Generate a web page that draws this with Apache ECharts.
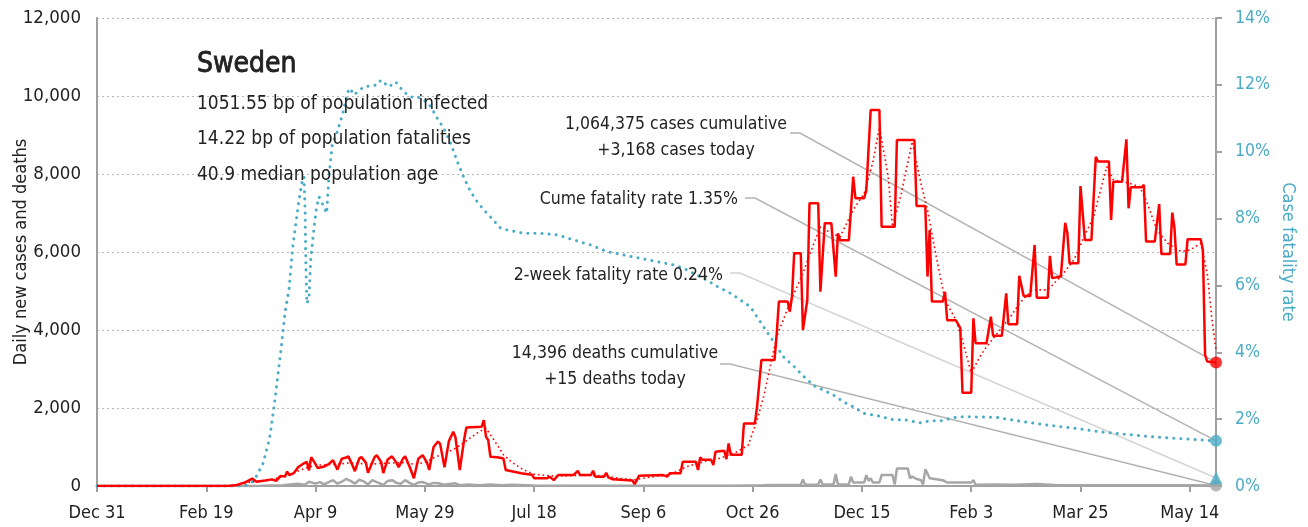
<!DOCTYPE html>
<html>
<head>
<meta charset="utf-8">
<title>Sweden</title>
<script src="https://cdn.jsdelivr.net/npm/echarts@6.0.0/dist/echarts.min.js"></script>
<style>
  html, body { margin: 0; padding: 0; background: #fff; }
  #chart { width: 1308px; height: 527px; }
</style>
</head>
<body>
<div id="chart"></div>
<script>
// x values are day numbers counted from Dec 31, 2019
const tickLabels = ['Dec 31', 'Feb 19', 'Apr 9', 'May 29', 'Jul 18', 'Sep 6', 'Oct 26', 'Dec 15', 'Feb 3', 'Mar 25', 'May 14'];
const lastDay = 512;

// [day, new cases]
const dailyCases = [[0,0],[60,0],[64,25],[68,100],[71,190],[73,110],[77,140],[80,170],[82,130],[84,260],[86,240],[87,370],[88,280],[90,330],[92,480],[94,560],[96,620],[97,400],[98,740],[100,560],[101,460],[104,500],[106,560],[108,660],[110,420],[112,700],[114,730],[115,760],[117,520],[118,380],[120,710],[121,740],[123,600],[124,340],[127,740],[128,790],[130,620],[131,330],[133,680],[135,760],[137,600],[138,480],[140,700],[141,760],[143,500],[145,200],[147,700],[149,790],[151,600],[152,410],[154,1000],[156,1140],[157,1080],[159,480],[161,1150],[163,1390],[164,1250],[166,410],[168,1200],[169,1500],[176,1520],[177,1690],[178,1260],[179,1180],[180,750],[183,735],[185,720],[186,700],[187,410],[194,325],[199,290],[200,200],[206,200],[207,240],[209,150],[211,280],[218,280],[220,390],[221,280],[226,280],[227,390],[228,240],[232,240],[233,340],[234,220],[236,170],[245,140],[246,50],[248,260],[259,280],[261,240],[262,325],[267,325],[268,620],[274,620],[275,410],[276,735],[277,670],[281,670],[282,540],[283,880],[287,905],[288,690],[289,1090],[290,800],[295,800],[296,1600],[301,1600],[302,2030],[304,3230],[310,3230],[311,3900],[312,4730],[316,4730],[317,4470],[318,4860],[319,5970],[322,5970],[323,4000],[325,4770],[326,7250],[330,7250],[331,4980],[333,6740],[336,6740],[338,5370],[339,6480],[340,6300],[344,6300],[346,7930],[347,7380],[351,7380],[352,7590],[354,9640],[358,9640],[359,6650],[365,6650],[366,8870],[374,8870],[375,7180],[379,7180],[380,5370],[381,6560],[382,4730],[387,4730],[388,4980],[389,4250],[393,4250],[395,4050],[396,2390],[400,2390],[401,4300],[402,3660],[407,3660],[409,4340],[410,3850],[414,3850],[416,4940],[417,4150],[421,4150],[422,5390],[424,4870],[427,4870],[429,6180],[430,4830],[435,4830],[436,5900],[437,5330],[441,5370],[443,6750],[444,6480],[445,5710],[449,5710],[450,7690],[452,6310],[455,6310],[457,8440],[458,8320],[463,8320],[464,6820],[465,7800],[469,7800],[471,8890],[472,7120],[473,7660],[478,7660],[479,7720],[480,6270],[484,6270],[486,7230],[487,5950],[491,5950],[492,7010],[493,6610],[494,5680],[498,5680],[499,6330],[505,6330],[506,6050],[507,3360],[508,3190],[512,3168]];

// [day, 7-day average cases]
const casesAvg = [[0,0],[60,0],[65,30],[70,100],[75,130],[80,160],[85,250],[90,340],[95,450],[100,530],[105,550],[110,560],[115,590],[120,580],[125,560],[130,580],[135,590],[140,600],[145,560],[150,600],[155,750],[160,850],[165,1000],[170,1200],[175,1400],[178,1480],[182,1150],[186,800],[190,600],[195,420],[200,300],[210,250],[220,270],[230,270],[240,190],[246,160],[252,220],[262,290],[270,500],[278,630],[285,710],[293,880],[298,1050],[302,1690],[305,2290],[311,3830],[317,4690],[323,5460],[328,6220],[331,6650],[336,6480],[340,6390],[346,7080],[351,7500],[355,8300],[358,9210],[362,7930],[364,6650],[368,7500],[373,8830],[377,7760],[380,7080],[384,5880],[388,4770],[393,4260],[396,3740],[400,2890],[404,3320],[407,3570],[412,3920],[418,4340],[422,4680],[428,5030],[435,5030],[441,5370],[447,5800],[451,6310],[456,6910],[462,8190],[465,7850],[470,7800],[477,7680],[480,7330],[485,6560],[490,6220],[496,6010],[500,6050],[505,6220],[508,5450],[510,4340],[512,3490]];

// [day, new deaths]
const dailyDeaths = [[0,0],[70,0],[75,5],[85,20],[88,40],[92,60],[95,30],[97,110],[100,60],[102,100],[104,40],[106,100],[108,150],[110,60],[112,110],[114,180],[116,130],[118,60],[120,160],[122,120],[124,40],[126,150],[128,100],[131,30],[133,130],[135,150],[137,80],[139,60],[141,150],[143,80],[145,30],[147,90],[149,100],[152,40],[154,80],[156,70],[159,30],[162,60],[164,70],[166,20],[170,40],[172,30],[175,20],[180,40],[185,20],[190,30],[200,10],[210,5],[230,5],[260,5],[290,5],[305,20],[309,25],[322,25],[323,170],[324,30],[330,30],[331,170],[332,40],[337,40],[338,310],[339,40],[344,40],[345,240],[346,90],[351,90],[352,280],[353,130],[354,200],[355,90],[358,90],[359,280],[364,280],[365,40],[366,450],[371,450],[372,200],[373,240],[375,180],[377,150],[378,40],[379,430],[381,200],[387,150],[389,90],[400,90],[401,150],[402,30],[410,40],[420,30],[430,50],[440,20],[460,20],[480,20],[500,20],[512,15]];

// [day, cumulative case fatality rate %]
const caseFatality = [[0,0],[66,0],[69,0.03],[72,0.18],[76,0.68],[79,1.43],[81,2.37],[84,3.97],[86,5.17],[88,5.96],[89.4,7.06],[91,7.86],[92.4,8.55],[94,9.15],[94.7,9.25],[95.2,8.26],[95.5,6.76],[96,5.46],[97,5.61],[97.8,6.76],[99,7.56],[100.5,8.35],[101.6,8.65],[103.8,8.35],[105.1,8.16],[106.1,9.25],[107.7,10.25],[110,10.6],[112.3,11.1],[114.5,11.75],[115.7,11.9],[117.6,11.7],[122,11.94],[128.3,12.0],[129.8,12.14],[133.6,11.94],[136.6,12.09],[140.4,11.79],[143.5,11.64],[146.6,11.64],[149.6,11.55],[152.7,11.35],[155.7,11.0],[158.7,10.7],[161.8,10.25],[164.9,9.7],[168,9.2],[171,8.8],[174,8.5],[177,8.26],[180,8.05],[184.7,7.71],[187.7,7.66],[195.3,7.56],[203,7.56],[210.6,7.51],[218.2,7.36],[225.8,7.21],[233.5,7.01],[241,6.91],[248.7,6.81],[256.4,6.71],[264,6.61],[268.5,6.51],[273,6.36],[279,6.16],[284,5.96],[290,5.76],[294.5,5.56],[299,5.36],[302,5.06],[305,4.76],[308,4.47],[311,4.17],[314,3.87],[319,3.57],[323,3.3],[328,3.0],[333,2.85],[337,2.72],[342,2.5],[346,2.37],[351,2.17],[358,2.09],[365,1.97],[369,1.99],[374,1.92],[377,1.89],[381,1.95],[386,1.95],[394,2.07],[401,2.07],[412,2.05],[424,1.92],[435,1.82],[447,1.73],[459,1.62],[470,1.55],[485,1.46],[500,1.4],[512,1.35]];

const twoWeekFatality = 0.24;
const cumeCases = 1064375, cumeDeaths = 14396;
const bpInfected = '1051.55', bpFatalities = '14.22', medianAge = '40.9';

const FONT = "'DejaVu Sans Condensed', 'DejaVu Sans', sans-serif";
const BLUE = '#4bacc6';
const RED = '#ff0000';
const GREY = '#a6a6a6';

const fmt = n => n.toLocaleString('en-US');
const last = arr => arr[arr.length - 1];

const chart = echarts.init(document.getElementById('chart'), null, { renderer: 'canvas' });

chart.setOption({
  animation: false,
  backgroundColor: '#fff',
  textStyle: { fontFamily: FONT },
  grid: { left: 97, right: 92, top: 18, bottom: 41, containLabel: false, outerBoundsMode: 'none' },
  xAxis: {
    type: 'value',
    min: 0,
    max: lastDay,
    interval: 50,
    axisLine: { lineStyle: { color: '#a0a0a0', width: 2 } },
    axisTick: { show: true, length: 6, lineStyle: { color: '#a0a0a0', width: 2 } },
    axisLabel: {
      color: '#222', fontSize: 18, fontFamily: FONT, margin: 18, showMaxLabel: false,
      formatter: v => (v % 50 === 0 ? (tickLabels[v / 50] || '') : '')
    },
    splitLine: { show: false }
  },
  yAxis: [{
    type: 'value',
    min: 0, max: 12000, interval: 2000,
    position: 'left',
    name: 'Daily new cases and deaths',
    nameLocation: 'middle',
    nameGap: 67,
    nameMoveOverlap: false,
    nameTextStyle: { color: '#222', fontSize: 18, fontFamily: FONT },
    axisLine: { show: true, lineStyle: { color: '#a0a0a0', width: 2 } },
    axisTick: { show: false },
    axisLabel: { color: '#222', fontSize: 18.5, fontFamily: FONT, margin: 16, formatter: v => fmt(v) },
    splitLine: { lineStyle: { color: '#b8b8b8', type: [2, 3], width: 1 } }
  }, {
    type: 'value',
    min: 0, max: 14, interval: 2,
    position: 'right',
    name: 'Case fatality rate',
    nameLocation: 'middle',
    nameRotate: -90,
    nameGap: 63,
    nameMoveOverlap: false,
    nameTextStyle: { color: BLUE, fontSize: 18, fontFamily: FONT },
    axisLine: { show: true, lineStyle: { color: '#a0a0a0', width: 2 } },
    axisTick: { show: true, length: 6, lineStyle: { color: '#a0a0a0', width: 2 } },
    axisLabel: { color: BLUE, fontSize: 17.5, fontFamily: FONT, margin: 19, formatter: v => v + '%' },
    splitLine: { show: false }
  }],
  series: [{
    name: 'Deaths',
    type: 'line',
    yAxisIndex: 0,
    data: dailyDeaths,
    symbol: 'none',
    lineStyle: { color: GREY, width: 2.5 }
  }, {
    name: 'Case fatality rate',
    type: 'line',
    yAxisIndex: 1,
    data: caseFatality,
    symbol: 'none',
    lineStyle: { color: BLUE, width: 3, type: [0.1, 7], cap: 'round' }
  }, {
    name: '7-day average',
    type: 'line',
    yAxisIndex: 0,
    data: casesAvg,
    symbol: 'none',
    lineStyle: { color: RED, width: 1.6, type: [1.6, 3] }
  }, {
    name: 'Cases',
    type: 'line',
    yAxisIndex: 0,
    data: dailyCases,
    symbol: 'none',
    lineStyle: { color: RED, width: 2.5 }
  }, {
    type: 'scatter', yAxisIndex: 0, clip: false, z: 5,
    symbol: 'circle', symbolSize: 12,
    itemStyle: { color: RED },
    data: [last(dailyCases)]
  }, {
    type: 'scatter', yAxisIndex: 0, clip: false, z: 5,
    symbol: 'circle', symbolSize: 12,
    itemStyle: { color: GREY },
    data: [last(dailyDeaths)]
  }, {
    type: 'scatter', yAxisIndex: 1, clip: false, z: 5,
    symbol: 'circle', symbolSize: 12,
    itemStyle: { color: BLUE },
    data: [last(caseFatality)]
  }, {
    type: 'scatter', yAxisIndex: 1, clip: false, z: 5,
    symbol: 'triangle', symbolSize: 13,
    itemStyle: { color: BLUE },
    data: [[lastDay, twoWeekFatality]]
  }]
});

// annotation texts and leader lines to the end markers
const px = (val, yIdx) => chart.convertToPixel({ xAxisIndex: 0, yAxisIndex: yIdx }, val);
const casesEnd = px(last(dailyCases), 0);
const deathsEnd = px(last(dailyDeaths), 0);
const cfrEnd = px(last(caseFatality), 1);
const twoWeekEnd = px([lastDay, twoWeekFatality], 1);

function label(text, x, y, size, align, heavy) {
  const style = {
    text: text, x: x, y: y,
    font: size + 'px ' + FONT,
    fill: '#222',
    textAlign: align, textVerticalAlign: 'middle',
    align: align, verticalAlign: 'middle'
  };
  if (heavy) { style.stroke = '#222'; style.lineWidth = 0.8; }
  return { type: 'text', z: 20, style: style };
}
function leader(x0, y0, end, color) {
  return {
    type: 'polyline', z: 3,
    shape: { points: [[x0, y0], [x0 + 10, y0], end] },
    style: { stroke: color, lineWidth: 1.5, fill: null }
  };
}

chart.setOption({
  graphic: [
    label('Sweden', 197, 65, 28, 'left', true),
    label(bpInfected + ' bp of population infected', 197, 104, 19, 'left'),
    label(bpFatalities + ' bp of population fatalities', 197, 139, 19, 'left'),
    label(medianAge + ' median population age', 197, 175, 19, 'left'),
    label(fmt(cumeCases) + ' cases cumulative', 676, 124, 17.5, 'center'),
    label('+' + fmt(last(dailyCases)[1]) + ' cases today', 676, 150, 17.5, 'center'),
    label('Cume fatality rate ' + last(caseFatality)[1].toFixed(2) + '%', 738, 199, 17.5, 'right'),
    label('2-week fatality rate ' + twoWeekFatality.toFixed(2) + '%', 723, 275, 17.5, 'right'),
    label(fmt(cumeDeaths) + ' deaths cumulative', 615, 353, 17.5, 'center'),
    label('+' + fmt(last(dailyDeaths)[1]) + ' deaths today', 615, 379, 17.5, 'center'),
    leader(790, 133, casesEnd, '#b3b3b3'),
    leader(745, 198, cfrEnd, '#b3b3b3'),
    leader(730, 273, twoWeekEnd, '#d4d4d4'),
    leader(720, 364, deathsEnd, '#b3b3b3')
  ]
});
</script>
</body>
</html>
